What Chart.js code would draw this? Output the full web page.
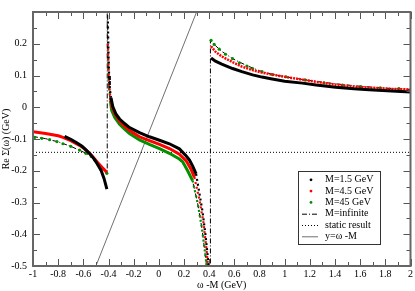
<!DOCTYPE html>
<html><head><meta charset="utf-8">
<script src="https://cdn.jsdelivr.net/npm/chart.js@4"></script>
<style>html,body{margin:0;padding:0;background:#fff}canvas{display:block}</style>
</head><body>
<canvas id="c" width="415" height="291"></canvas>
<script>
// ---- tick labels ----
const xTickValues = [-1,-0.8,-0.6,-0.4,-0.2,0,0.2,0.4,0.6,0.8,1,1.2,1.4,1.6,1.8,2];
const yTickValues = [-0.5,-0.4,-0.3,-0.2,-0.1,0,0.1,0.2];
const seriesLabels = ['M=1.5 GeV','M=4.5 GeV','M=45 GeV','M=infinite','static result','y=\u03c9 -M'];

// ---- M = 1.5 GeV (black) ----
const m15Left = [[-0.749,-0.092],[-0.70,-0.101],[-0.656,-0.111],[-0.61,-0.123],[-0.577,-0.135],[-0.54,-0.15],[-0.511,-0.165],[-0.485,-0.181],[-0.458,-0.2],[-0.435,-0.225],[-0.413,-0.258]];
const m15Mid = [[-0.405,0.27],[-0.40,0.17],[-0.395,0.10],[-0.39,0.06],[-0.38,0.03],[-0.366,0.002],[-0.34,-0.022],[-0.312,-0.037],[-0.27,-0.052],[-0.233,-0.064],[-0.154,-0.08],[-0.075,-0.093],[0.005,-0.104],[0.084,-0.115],[0.163,-0.131],[0.216,-0.153],[0.243,-0.166],[0.27,-0.186],[0.296,-0.21],[0.322,-0.27],[0.348,-0.33],[0.37,-0.40],[0.388,-0.468],[0.395,-0.5]];
const m15Right = [[0.415,0.155],[0.45,0.145],[0.5,0.136],[0.586,0.122],[0.66,0.112],[0.745,0.102],[0.82,0.095],[0.89,0.09],[1.0,0.082],[1.141,0.076],[1.25,0.07],[1.406,0.063],[1.55,0.058],[1.67,0.055],[1.85,0.051],[2.0,0.048]];

// ---- M = 4.5 GeV (red) ----
const m45Left = [[-1,-0.077],[-0.9,-0.083],[-0.8,-0.09],[-0.762,-0.095],[-0.7,-0.105],[-0.63,-0.12],[-0.59,-0.131],[-0.55,-0.145],[-0.52,-0.158],[-0.485,-0.175],[-0.45,-0.19],[-0.413,-0.205]];
const m45Mid = [[-0.405,0.2],[-0.40,0.12],[-0.395,0.07],[-0.385,0.03],[-0.37,0.0],[-0.35,-0.02],[-0.312,-0.044],[-0.27,-0.06],[-0.233,-0.073],[-0.154,-0.093],[-0.075,-0.105],[0.005,-0.117],[0.084,-0.13],[0.163,-0.148],[0.216,-0.168],[0.256,-0.195],[0.282,-0.22],[0.322,-0.29],[0.354,-0.362],[0.38,-0.452],[0.39,-0.5]];
const m45Right = [[0.415,0.192],[0.45,0.175],[0.5,0.16],[0.586,0.142],[0.66,0.128],[0.745,0.117],[0.82,0.109],[0.9,0.103],[1.0,0.096],[1.141,0.087],[1.25,0.08],[1.406,0.071],[1.55,0.065],[1.67,0.062],[1.85,0.058],[2.0,0.056]];

// ---- M = 45 GeV (green) ----
const m450Left = [[-0.987,-0.095],[-0.93,-0.098],[-0.868,-0.102],[-0.81,-0.108],[-0.762,-0.115],[-0.70,-0.123],[-0.63,-0.135],[-0.58,-0.145],[-0.537,-0.155],[-0.51,-0.166],[-0.484,-0.18],[-0.45,-0.193],[-0.413,-0.208]];
const m450Mid = [[-0.405,0.17],[-0.40,0.10],[-0.395,0.06],[-0.385,0.02],[-0.375,-0.01],[-0.35,-0.032],[-0.312,-0.054],[-0.27,-0.07],[-0.233,-0.083],[-0.154,-0.103],[-0.075,-0.117],[0.005,-0.13],[0.084,-0.145],[0.163,-0.163],[0.19,-0.172],[0.229,-0.2],[0.268,-0.231],[0.308,-0.301],[0.343,-0.382],[0.375,-0.483],[0.38,-0.5]];
const m450Right = [[0.415,0.211],[0.44,0.198],[0.48,0.183],[0.53,0.167],[0.586,0.153],[0.64,0.14],[0.70,0.13],[0.745,0.122],[0.82,0.112],[0.903,0.103],[1.01,0.096],[1.16,0.086],[1.313,0.077],[1.46,0.07],[1.604,0.065],[1.76,0.061],[1.908,0.059]];

// ---- M = infinite (dash-dot) ----
const mInfLeft = [[-1,-0.092],[-0.9,-0.099],[-0.8,-0.109],[-0.7,-0.123],[-0.6,-0.141],[-0.55,-0.152],[-0.5,-0.171],[-0.45,-0.192],[-0.41,-0.208],[-0.41,0.6]];
const mInfMid = [[-0.405,0.16],[-0.40,0.095],[-0.395,0.055],[-0.385,0.015],[-0.375,-0.012],[-0.35,-0.034],[-0.312,-0.055],[-0.27,-0.071],[-0.233,-0.084],[-0.154,-0.104],[-0.075,-0.118],[0.005,-0.131],[0.084,-0.146],[0.163,-0.164],[0.229,-0.2],[0.268,-0.232],[0.308,-0.302],[0.343,-0.383],[0.375,-0.485],[0.385,-0.55],[0.41,-0.9]];
const mInfRight = [[0.41,0.211],[0.45,0.194],[0.5,0.176],[0.586,0.153],[0.7,0.131],[0.8,0.115],[0.9,0.104],[1.0,0.096],[1.2,0.084],[1.4,0.074],[1.6,0.066],[1.8,0.06],[2.0,0.056]];

// ---- static result and y = omega - M ----
const staticResult = [[-1,-0.142],[2,-0.142]];
const diagLine = [[-0.5,-0.5],[0.3,0.3]];

const toXY = a => a.map(p => ({x:p[0], y:p[1]}));
const GAP = x => ({x:x, y:null});

const BLACK = '#000000', RED = '#ff0000', GREEN = '#009000', GRAY = '#707070';
const FONT = "'Liberation Serif', 'Times New Roman', serif";

Chart.defaults.font.family = FONT;
Chart.defaults.font.size = 10;
Chart.defaults.color = '#000';

// sparse (dotted) look where the middle-branch curves are steep, as in the reference
const steep = c => (c.p0.parsed.x < -0.385 && c.p0.parsed.y > 0) || (c.p0.parsed.x > 0.2 && c.p1.parsed.y < -0.24);
const steepSeg = {
  borderWidth: c => steep(c) ? 2.2 : undefined,
  borderDash: c => steep(c) ? [2, 3] : undefined
};

const datasets = [
  {label: seriesLabels[0], data: [...toXY(m15Left), GAP(-0.41), ...toXY(m15Mid), GAP(0.41), ...toXY(m15Right)],
   borderColor: BLACK, borderWidth: 3, pointRadius: 0, segment: steepSeg},
  {label: seriesLabels[1], data: [...toXY(m45Left), GAP(-0.41), ...toXY(m45Mid)],
   borderColor: RED, borderWidth: 3, pointRadius: 0, segment: steepSeg},
  {label: seriesLabels[1], data: toXY(m45Right),
   borderColor: RED, borderWidth: 2.5, borderDash: [2,1], pointRadius: 0},
  {label: seriesLabels[2], data: toXY(m450Mid),
   borderColor: GREEN, borderWidth: 3, pointRadius: 0, segment: steepSeg},
  {label: seriesLabels[2], data: [...toXY(m450Left), GAP(0), ...toXY(m450Right)], showLine: false,
   pointRadius: 1.6, pointBackgroundColor: GREEN, pointBorderWidth: 0, borderColor: GREEN},
  {label: seriesLabels[3], data: [...toXY(mInfLeft), ...toXY(mInfMid), ...toXY(mInfRight)],
   borderColor: BLACK, borderWidth: 1, borderDash: [5,2,1,2], pointRadius: 0},
  {label: seriesLabels[4], data: toXY(staticResult),
   borderColor: BLACK, borderWidth: 1, borderDash: [1,2], pointRadius: 0},
  {label: seriesLabels[5], data: toXY(diagLine),
   borderColor: GRAY, borderWidth: 1, pointRadius: 0}
];

const legendEntries = [
  {text: seriesLabels[0], kind: 'dot', color: BLACK},
  {text: seriesLabels[1], kind: 'dot', color: RED},
  {text: seriesLabels[2], kind: 'dot', color: GREEN},
  {text: seriesLabels[3], kind: 'line', color: BLACK, dash: [5,2,1,2]},
  {text: seriesLabels[4], kind: 'line', color: BLACK, dash: [1,2]},
  {text: seriesLabels[5], kind: 'line', color: GRAY, dash: []}
];

const framePlugin = {
  id: 'frameTicks',
  afterDatasetsDraw(chart) {
    const ctx = chart.ctx, a = chart.chartArea;
    const xs = chart.scales.x, ys = chart.scales.y;
    ctx.save();
    ctx.strokeStyle = '#555';
    ctx.lineWidth = 1;
    ctx.setLineDash([]);
    const majorLen = 7, minorLen = 4;
    ctx.beginPath();
    xTickValues.forEach((v, i) => {
      const px = Math.round(xs.getPixelForValue(v)) + 0.5;
      ctx.moveTo(px, a.bottom); ctx.lineTo(px, a.bottom - majorLen);
      ctx.moveTo(px, a.top); ctx.lineTo(px, a.top + majorLen);
      if (i < xTickValues.length - 1) {
        const mv = (v + xTickValues[i+1]) / 2;
        const mx = Math.round(xs.getPixelForValue(mv)) + 0.5;
        ctx.moveTo(mx, a.bottom); ctx.lineTo(mx, a.bottom - minorLen);
        ctx.moveTo(mx, a.top); ctx.lineTo(mx, a.top + minorLen);
      }
    });
    const yAll = [...yTickValues, ys.max];
    yAll.forEach((v, i) => {
      const py = Math.round(ys.getPixelForValue(v)) + 0.5;
      ctx.moveTo(a.left, py); ctx.lineTo(a.left + majorLen, py);
      ctx.moveTo(a.right, py); ctx.lineTo(a.right - majorLen, py);
      if (i < yAll.length - 1) {
        const mv = (v + yAll[i+1]) / 2;
        const my = Math.round(ys.getPixelForValue(mv)) + 0.5;
        ctx.moveTo(a.left, my); ctx.lineTo(a.left + minorLen, my);
        ctx.moveTo(a.right, my); ctx.lineTo(a.right - minorLen, my);
      }
    });
    ctx.stroke();
    ctx.lineWidth = 2;
    ctx.strokeStyle = '#666';
    ctx.strokeRect(a.left, a.top, a.right - a.left, a.bottom - a.top);
    ctx.restore();
  },
  afterDraw(chart) {
    const ctx = chart.ctx;
    const x0 = 298.5, y0 = 171.5, w = 82, h = 73;
    ctx.save();
    ctx.fillStyle = '#fff';
    ctx.fillRect(x0, y0, w, h);
    ctx.strokeStyle = '#333';
    ctx.lineWidth = 1;
    ctx.strokeRect(x0, y0, w, h);
    ctx.font = '10px ' + FONT;
    ctx.textBaseline = 'middle';
    ctx.textAlign = 'left';
    legendEntries.forEach((e, i) => {
      const cy = y0 + 8.3 + i * 11.3;
      if (e.kind === 'dot') {
        ctx.fillStyle = e.color;
        ctx.beginPath(); ctx.arc(311, cy, 1.4, 0, Math.PI * 2); ctx.fill();
      } else {
        ctx.strokeStyle = e.color;
        ctx.setLineDash(e.dash);
        ctx.beginPath(); ctx.moveTo(302, cy + 0.5); ctx.lineTo(318, cy + 0.5); ctx.stroke();
        ctx.setLineDash([]);
      }
      ctx.fillStyle = '#000';
      ctx.fillText(e.text, 325, cy);
    });
    ctx.restore();
  }
};

new Chart(document.getElementById('c'), {
  type: 'line',
  data: {datasets},
  options: {
    responsive: false,
    animation: false,
    devicePixelRatio: 1,
    layout: {padding: {top: 1, right: 3, left: 0, bottom: 0}},
    plugins: {legend: {display: false}, tooltip: {enabled: false}},
    elements: {line: {tension: 0}},
    scales: {
      x: {
        type: 'linear', min: -1, max: 2,
        grid: {display: false, drawTicks: false}, border: {display: false},
        afterBuildTicks: s => { s.ticks = xTickValues.map(v => ({value: v})); },
        afterFit: s => { s.height = 25; },
        ticks: {padding: 2, maxRotation: 0, autoSkip: false, color: '#000',
                callback: v => String(v)},
        title: {display: true, text: '\u03c9 -M (GeV)', padding: {top: 0, bottom: 0}, color: '#000', font: {size: 10}}
      },
      y: {
        type: 'linear', min: -0.5, max: 0.3,
        grid: {display: false, drawTicks: false}, border: {display: false},
        afterBuildTicks: s => { s.ticks = yTickValues.map(v => ({value: v})); },
        afterFit: s => { s.width = 33; },
        ticks: {padding: 6, autoSkip: false, color: '#000',
                callback: v => String(Math.round(v * 10) / 10)},
        title: {display: true, text: 'Re \u03a3(\u03c9) (GeV)', padding: {top: 0, bottom: 0}, color: '#000', font: {size: 10}}
      }
    }
  },
  plugins: [framePlugin]
});
</script>
</body></html>
